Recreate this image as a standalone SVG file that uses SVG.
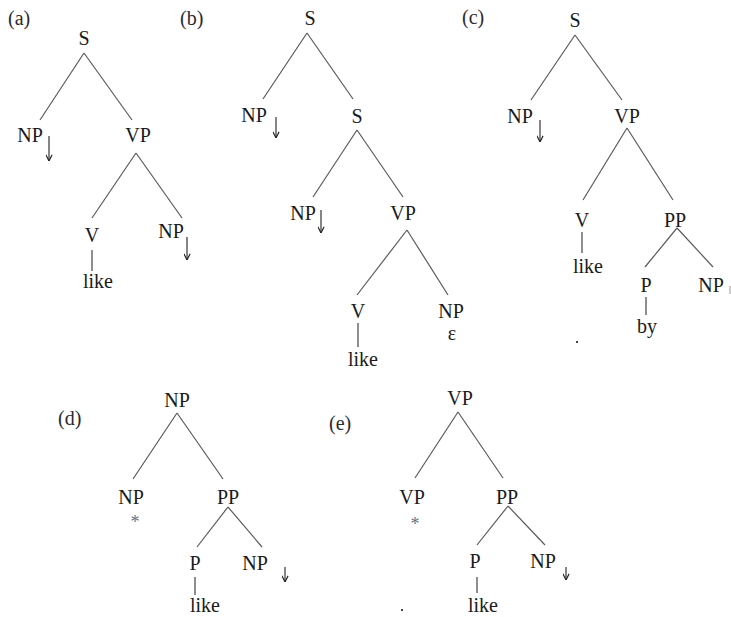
<svg xmlns="http://www.w3.org/2000/svg" width="731" height="617" viewBox="0 0 731 617" font-family="'Liberation Serif', 'DejaVu Serif', serif">
  <style>
    text { font-family: 'Liberation Serif', 'DejaVu Serif', serif; font-size: 20px; fill: #1a1a20; text-anchor: middle; }
    text.lbl { text-anchor: start; fill: #2a2a30; }
    text.star { fill: #6a6f80; font-size: 18px; }
    .edge { stroke: #5a5a5a; stroke-width: 1.2; fill: none; }
    .anchor { stroke: #444; stroke-width: 1.2; fill: none; }
    .subst { stroke: #222; stroke-width: 1.1; fill: none; marker-end: url(#down); }
  </style>
  <defs>
    <!-- small open arrowhead used for substitution marks -->
    <marker id="down" viewBox="0 0 8 8" refX="7.5" refY="4" markerWidth="7" markerHeight="7" markerUnits="userSpaceOnUse" orient="auto">
      <path d="M0.5,0.5 L7.5,4 L0.5,7.5" stroke="#222" stroke-width="1.3" fill="none"/>
    </marker>
  </defs>

  <!-- panel labels -->
  <g id="labels">
    <text class="lbl" x="8" y="25">(a)</text>
    <text class="lbl" x="180" y="25">(b)</text>
    <text class="lbl" x="462" y="24">(c)</text>
    <text class="lbl" x="58" y="425">(d)</text>
    <text class="lbl" x="329" y="430">(e)</text>
  </g>

  <!-- tree branches -->
  <g id="connectors">
    <!-- (a) -->
    <line class="edge" x1="84" y1="53" x2="40" y2="120"/>
    <line class="edge" x1="84" y1="53" x2="132" y2="120"/>
    <line class="edge" x1="136" y1="153" x2="92" y2="218"/>
    <line class="edge" x1="136" y1="153" x2="182" y2="218"/>
    <line class="anchor" x1="92" y1="250" x2="92" y2="271"/>
    <!-- (b) -->
    <line class="edge" x1="307" y1="33" x2="263" y2="99"/>
    <line class="edge" x1="307" y1="33" x2="353" y2="99"/>
    <line class="edge" x1="357" y1="130" x2="313" y2="197"/>
    <line class="edge" x1="357" y1="130" x2="403" y2="197"/>
    <line class="edge" x1="407" y1="230" x2="357" y2="295"/>
    <line class="edge" x1="407" y1="230" x2="448" y2="295"/>
    <line class="anchor" x1="358" y1="323" x2="358" y2="347"/>
    <!-- (c) -->
    <line class="edge" x1="575" y1="35" x2="531" y2="100"/>
    <line class="edge" x1="575" y1="35" x2="622" y2="100"/>
    <line class="edge" x1="627" y1="128" x2="583" y2="200"/>
    <line class="edge" x1="627" y1="128" x2="673" y2="200"/>
    <line class="anchor" x1="582" y1="232" x2="582" y2="253"/>
    <line class="edge" x1="677" y1="228" x2="645" y2="267"/>
    <line class="edge" x1="677" y1="228" x2="713" y2="267"/>
    <line class="anchor" x1="646" y1="297" x2="646" y2="315"/>
    <!-- (d) -->
    <line class="edge" x1="177" y1="413" x2="133" y2="479"/>
    <line class="edge" x1="177" y1="413" x2="223" y2="479"/>
    <line class="edge" x1="228" y1="507" x2="197" y2="547"/>
    <line class="edge" x1="228" y1="507" x2="262" y2="547"/>
    <line class="anchor" x1="195" y1="577" x2="195" y2="595"/>
    <!-- (e) -->
    <line class="edge" x1="458" y1="412" x2="415" y2="478"/>
    <line class="edge" x1="458" y1="412" x2="503" y2="478"/>
    <line class="edge" x1="508" y1="506" x2="477" y2="545"/>
    <line class="edge" x1="508" y1="506" x2="545" y2="545"/>
    <line class="anchor" x1="477" y1="577" x2="477" y2="593"/>
  </g>

  <!-- (a) nodes -->
  <g id="a-S"><text x="84" y="45">S</text></g>
  <g id="a-NP"><text x="30" y="142">NP</text><line class="subst" x1="49" y1="136" x2="49" y2="161"/></g>
  <g id="a-VP"><text x="138" y="142">VP</text></g>
  <g id="a-V"><text x="92" y="242">V</text></g>
  <g id="a-like"><text x="98" y="288">like</text></g>
  <g id="a-NP2"><text x="171" y="238">NP</text><line class="subst" x1="187" y1="237" x2="187" y2="260"/></g>

  <!-- (b) nodes -->
  <g id="b-S"><text x="310" y="25">S</text></g>
  <g id="b-NP"><text x="254" y="122">NP</text><line class="subst" x1="276" y1="117" x2="276" y2="138"/></g>
  <g id="b-S2"><text x="357" y="123">S</text></g>
  <g id="b-NP2"><text x="303" y="220">NP</text><line class="subst" x1="321" y1="210" x2="321" y2="233"/></g>
  <g id="b-VP"><text x="403" y="220">VP</text></g>
  <g id="b-V"><text x="358" y="318">V</text></g>
  <g id="b-like"><text x="363" y="366">like</text></g>
  <g id="b-NP3"><text x="451" y="318">NP</text><text x="452" y="340">ε</text></g>

  <!-- (c) nodes -->
  <g id="c-S"><text x="575" y="27">S</text></g>
  <g id="c-NP"><text x="520" y="123">NP</text><line class="subst" x1="540" y1="120" x2="540" y2="142"/></g>
  <g id="c-VP"><text x="627" y="123">VP</text></g>
  <g id="c-V"><text x="582" y="227">V</text></g>
  <g id="c-like"><text x="588" y="273">like</text></g>
  <g id="c-PP"><text x="675" y="227">PP</text></g>
  <g id="c-P"><text x="646" y="292">P</text></g>
  <g id="c-by"><text x="647" y="333">by</text></g>
  <g id="c-NP2"><text x="711" y="292">NP</text><line x1="730" y1="286" x2="730" y2="294" stroke="#999" stroke-width="1"/></g>
  <rect x="576" y="341" width="2" height="2" fill="#444"/>

  <!-- (d) nodes -->
  <g id="d-NP"><text x="177" y="407">NP</text></g>
  <g id="d-NP2"><text x="131" y="504">NP</text><text class="star" x="135" y="528">*</text></g>
  <g id="d-PP"><text x="228" y="504">PP</text></g>
  <g id="d-P"><text x="195" y="570">P</text></g>
  <g id="d-like"><text x="205" y="612">like</text></g>
  <g id="d-NP3"><text x="255" y="570">NP</text><line class="subst" x1="285" y1="567" x2="285" y2="582"/></g>

  <!-- (e) nodes -->
  <g id="e-VP"><text x="460" y="405">VP</text></g>
  <g id="e-VP2"><text x="412" y="504">VP</text><text class="star" x="415" y="530">*</text></g>
  <g id="e-PP"><text x="507" y="504">PP</text></g>
  <g id="e-P"><text x="475" y="568">P</text></g>
  <g id="e-like"><text x="483" y="612">like</text></g>
  <g id="e-NP"><text x="543" y="568">NP</text><line class="subst" x1="566" y1="567" x2="566" y2="580"/></g>
  <rect x="401" y="609" width="2" height="2" fill="#444"/>
</svg>
